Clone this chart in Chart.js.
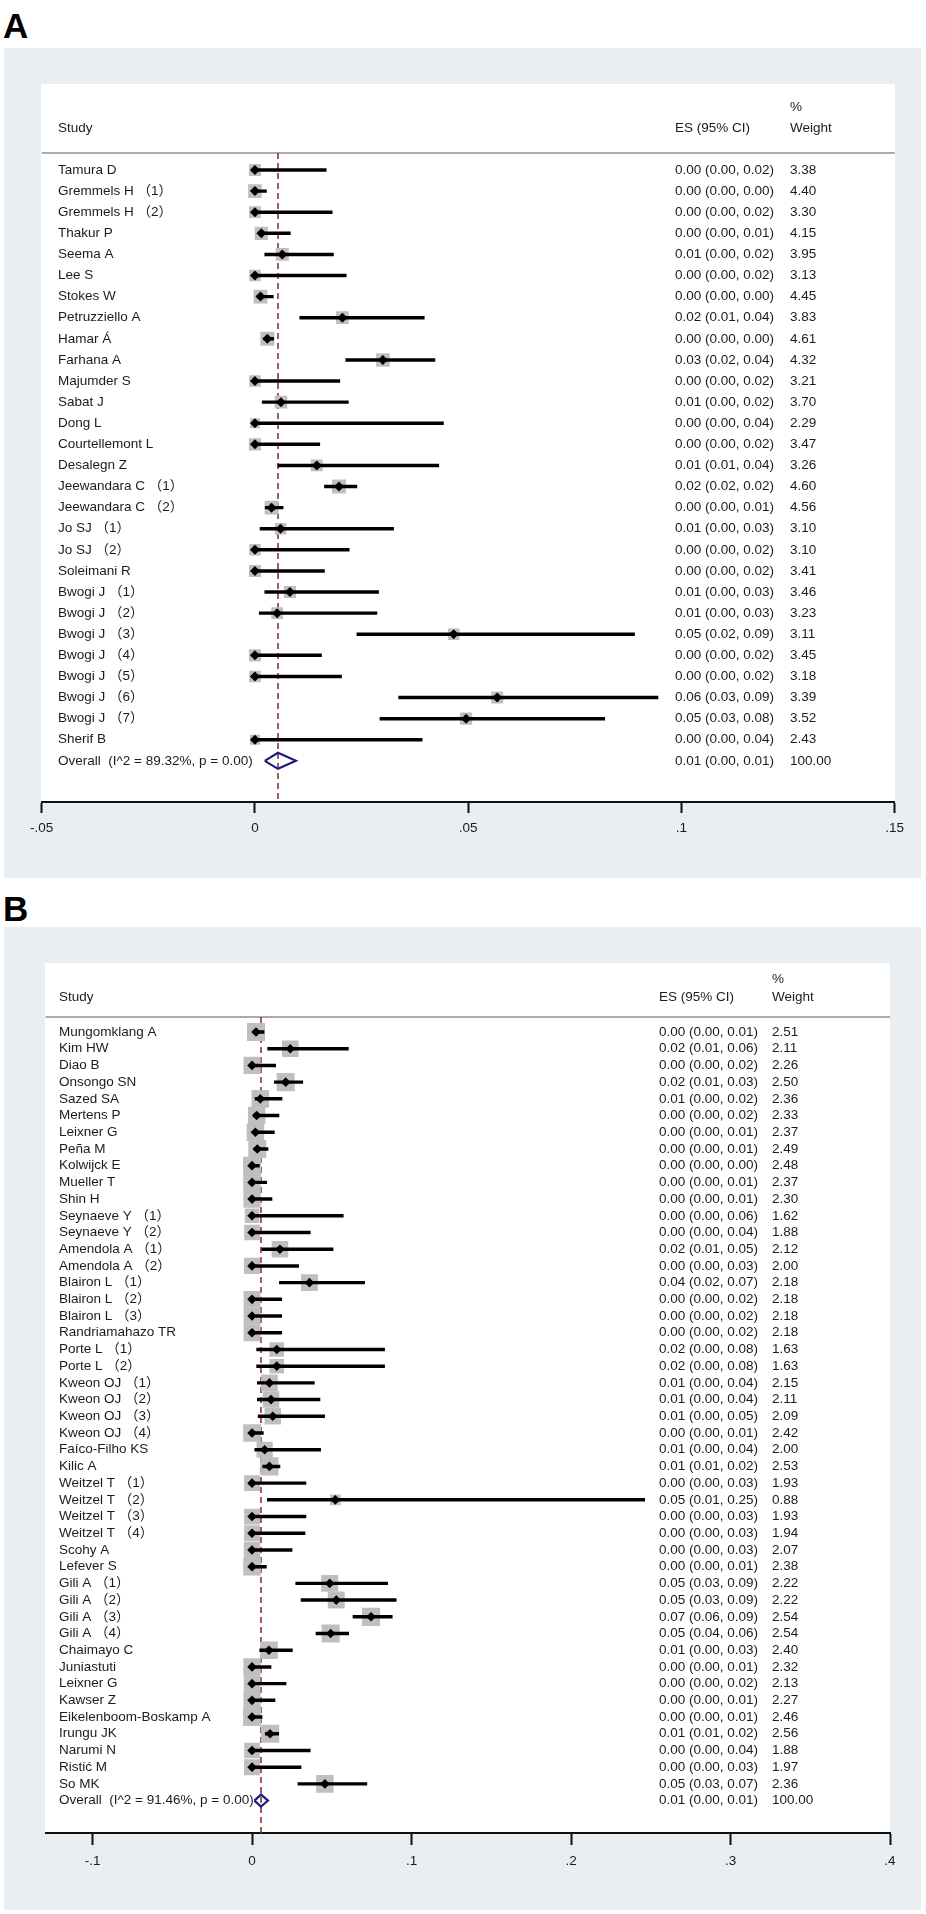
<!DOCTYPE html>
<html><head><meta charset="utf-8">
<script src="https://cdn.jsdelivr.net/npm/chart.js@4"></script>
<style>
html,body{margin:0;padding:0;background:#fff;}
body{width:926px;height:1914px;position:relative;overflow:hidden;font-family:"Liberation Sans",Arial,sans-serif;}
.lbl{position:absolute;font-weight:bold;font-size:35px;color:#000;line-height:1;}
.gray{position:absolute;background:#e8eef2;}
.white{position:absolute;background:#fff;}
canvas{position:absolute;left:0;}
</style></head><body>
<div class="lbl" style="left:3px;top:8px">A</div>
<div class="gray" style="left:4px;top:48px;width:917px;height:830px"></div>
<div class="white" style="left:41px;top:84px;width:854px;height:718px"></div>
<canvas id="cA" width="926" height="845" style="top:40px"></canvas>
<div class="lbl" style="left:3px;top:891px">B</div>
<div class="gray" style="left:4px;top:927px;width:917px;height:983px"></div>
<div class="white" style="left:45px;top:963px;width:845px;height:870px"></div>
<canvas id="cB" width="926" height="994" style="top:920px"></canvas>
<script>
// ---------- Panel A data ----------
const studiesA = ['Tamura D','Gremmels H （1）','Gremmels H （2）','Thakur P','Seema A','Lee S','Stokes W','Petruzziello A','Hamar Á','Farhana A','Majumder S','Sabat J','Dong L','Courtellemont L','Desalegn Z','Jeewandara C （1）','Jeewandara C （2）','Jo SJ （1）','Jo SJ （2）','Soleimani R','Bwogi J （1）','Bwogi J （2）','Bwogi J （3）','Bwogi J （4）','Bwogi J （5）','Bwogi J （6）','Bwogi J （7）','Sherif B'];
const esA = [0, 0, 0, 0.0015, 0.0064, 0, 0.0013, 0.0205, 0.0029, 0.0300, 0, 0.0061, 0, 0, 0.0145, 0.0197, 0.0039, 0.0060, 0, 0, 0.0082, 0.0052, 0.0466, 0, 0, 0.0568, 0.0495, 0];
const loA = [0, 0, 0, 0.0008, 0.0023, 0, 0.0005, 0.0105, 0.0021, 0.0213, 0, 0.0017, 0, 0, 0.0054, 0.0163, 0.0024, 0.0012, 0, 0, 0.0023, 0.0010, 0.0239, 0, 0, 0.0337, 0.0293, 0];
const hiA = [0.0167, 0.0027, 0.0181, 0.0083, 0.0184, 0.0214, 0.0043, 0.0397, 0.0044, 0.0422, 0.0199, 0.0219, 0.0442, 0.0152, 0.0431, 0.0239, 0.0066, 0.0325, 0.0221, 0.0163, 0.0290, 0.0286, 0.0890, 0.0156, 0.0203, 0.0945, 0.0820, 0.0392];
const weightsA = [3.38,4.40,3.30,4.15,3.95,3.13,4.45,3.83,4.61,4.32,3.21,3.70,2.29,3.47,3.26,4.60,4.56,3.10,3.10,3.41,3.46,3.23,3.11,3.45,3.18,3.39,3.52,2.43];
const esTextA = ['0.00 (0.00, 0.02)','0.00 (0.00, 0.00)','0.00 (0.00, 0.02)','0.00 (0.00, 0.01)','0.01 (0.00, 0.02)','0.00 (0.00, 0.02)','0.00 (0.00, 0.00)','0.02 (0.01, 0.04)','0.00 (0.00, 0.00)','0.03 (0.02, 0.04)','0.00 (0.00, 0.02)','0.01 (0.00, 0.02)','0.00 (0.00, 0.04)','0.00 (0.00, 0.02)','0.01 (0.01, 0.04)','0.02 (0.02, 0.02)','0.00 (0.00, 0.01)','0.01 (0.00, 0.03)','0.00 (0.00, 0.02)','0.00 (0.00, 0.02)','0.01 (0.00, 0.03)','0.01 (0.00, 0.03)','0.05 (0.02, 0.09)','0.00 (0.00, 0.02)','0.00 (0.00, 0.02)','0.06 (0.03, 0.09)','0.05 (0.03, 0.08)','0.00 (0.00, 0.04)'];
const weightTextA = ['3.38','4.40','3.30','4.15','3.95','3.13','4.45','3.83','4.61','4.32','3.21','3.70','2.29','3.47','3.26','4.60','4.56','3.10','3.10','3.41','3.46','3.23','3.11','3.45','3.18','3.39','3.52','2.43'];
const overallLabelA = 'Overall  (I^2 = 89.32%, p = 0.00)';
const overallA = [0.0054, 0.0023, 0.0096]; // es, lo, hi
const overallTextA = ['0.01 (0.00, 0.01)', '100.00'];
const xTicksA = [-0.05, 0, 0.05, 0.1, 0.15];
const xTickLabelsA = ['-.05', '0', '.05', '.1', '.15'];

// ---------- Panel B data ----------
const studiesB = ['Mungomklang A','Kim HW','Diao B','Onsongo SN','Sazed SA','Mertens P','Leixner G','Peña M','Kolwijck E','Mueller T','Shin H','Seynaeve Y （1）','Seynaeve Y （2）','Amendola A （1）','Amendola A （2）','Blairon L （1）','Blairon L （2）','Blairon L （3）','Randriamahazo TR','Porte L （1）','Porte L （2）','Kweon OJ （1）','Kweon OJ （2）','Kweon OJ （3）','Kweon OJ （4）','Faíco-Filho KS','Kilic A','Weitzel T （1）','Weitzel T （2）','Weitzel T （3）','Weitzel T （4）','Scohy A','Lefever S','Gili A （1）','Gili A （2）','Gili A （3）','Gili A （4）','Chaimayo C','Juniastuti','Leixner G','Kawser Z','Eikelenboom-Boskamp A','Irungu JK','Narumi N','Ristić M','So MK'];
const esB = [0.0025, 0.0240, 0, 0.0211, 0.0052, 0.0029, 0.0021, 0.0033, 0, 0, 0, 0, 0, 0.0175, 0, 0.0360, 0, 0, 0, 0.0155, 0.0155, 0.0109, 0.0119, 0.0130, 0, 0.0079, 0.0109, 0, 0.0522, 0, 0, 0, 0, 0.0487, 0.0528, 0.0746, 0.0493, 0.0106, 0, 0, 0, 0, 0.0113, 0, 0, 0.0457];
const loB = [0.0008, 0.0098, 0, 0.0140, 0.0019, 0.0008, 0.0008, 0.0013, 0, 0, 0, 0, 0, 0.0061, 0, 0.0171, 0, 0, 0, 0.0029, 0.0029, 0.0033, 0.0033, 0.0038, 0, 0.0017, 0.0067, 0, 0.0096, 0, 0, 0, 0, 0.0274, 0.0307, 0.0633, 0.0401, 0.0048, 0, 0, 0, 0, 0.0083, 0, 0, 0.0288];
const hiB = [0.0075, 0.0604, 0.0148, 0.0318, 0.0188, 0.0169, 0.0140, 0.0100, 0.0046, 0.0092, 0.0125, 0.0572, 0.0365, 0.0508, 0.0292, 0.0706, 0.0186, 0.0186, 0.0186, 0.0831, 0.0831, 0.0391, 0.0426, 0.0455, 0.0071, 0.0430, 0.0175, 0.0338, 0.2462, 0.0338, 0.0332, 0.0251, 0.0090, 0.0850, 0.0904, 0.0879, 0.0606, 0.0253, 0.0119, 0.0213, 0.0144, 0.0063, 0.0167, 0.0365, 0.0307, 0.0720];
const weightsB = [2.51,2.11,2.26,2.50,2.36,2.33,2.37,2.49,2.48,2.37,2.30,1.62,1.88,2.12,2.00,2.18,2.18,2.18,2.18,1.63,1.63,2.15,2.11,2.09,2.42,2.00,2.53,1.93,0.88,1.93,1.94,2.07,2.38,2.22,2.22,2.54,2.54,2.40,2.32,2.13,2.27,2.46,2.56,1.88,1.97,2.36];
const esTextB = ['0.00 (0.00, 0.01)','0.02 (0.01, 0.06)','0.00 (0.00, 0.02)','0.02 (0.01, 0.03)','0.01 (0.00, 0.02)','0.00 (0.00, 0.02)','0.00 (0.00, 0.01)','0.00 (0.00, 0.01)','0.00 (0.00, 0.00)','0.00 (0.00, 0.01)','0.00 (0.00, 0.01)','0.00 (0.00, 0.06)','0.00 (0.00, 0.04)','0.02 (0.01, 0.05)','0.00 (0.00, 0.03)','0.04 (0.02, 0.07)','0.00 (0.00, 0.02)','0.00 (0.00, 0.02)','0.00 (0.00, 0.02)','0.02 (0.00, 0.08)','0.02 (0.00, 0.08)','0.01 (0.00, 0.04)','0.01 (0.00, 0.04)','0.01 (0.00, 0.05)','0.00 (0.00, 0.01)','0.01 (0.00, 0.04)','0.01 (0.01, 0.02)','0.00 (0.00, 0.03)','0.05 (0.01, 0.25)','0.00 (0.00, 0.03)','0.00 (0.00, 0.03)','0.00 (0.00, 0.03)','0.00 (0.00, 0.01)','0.05 (0.03, 0.09)','0.05 (0.03, 0.09)','0.07 (0.06, 0.09)','0.05 (0.04, 0.06)','0.01 (0.00, 0.03)','0.00 (0.00, 0.01)','0.00 (0.00, 0.02)','0.00 (0.00, 0.01)','0.00 (0.00, 0.01)','0.01 (0.01, 0.02)','0.00 (0.00, 0.04)','0.00 (0.00, 0.03)','0.05 (0.03, 0.07)'];
const weightTextB = ['2.51','2.11','2.26','2.50','2.36','2.33','2.37','2.49','2.48','2.37','2.30','1.62','1.88','2.12','2.00','2.18','2.18','2.18','2.18','1.63','1.63','2.15','2.11','2.09','2.42','2.00','2.53','1.93','0.88','1.93','1.94','2.07','2.38','2.22','2.22','2.54','2.54','2.40','2.32','2.13','2.27','2.46','2.56','1.88','1.97','2.36'];
const overallLabelB = 'Overall  (I^2 = 91.46%, p = 0.00)';
const overallB = [0.0056, 0.0015, 0.0100];
const overallTextB = ['0.01 (0.00, 0.01)', '100.00'];
const xTicksB = [-0.1, 0, 0.1, 0.2, 0.3, 0.4];
const xTickLabelsB = ['-.1', '0', '.1', '.2', '.3', '.4'];

// ---------- drawing ----------
const FONT_FAMILY = '"Liberation Sans", Arial, "Noto Sans CJK SC", sans-serif';
const TEXT_COLOR = '#1b1b1b';

function forest(id, d, s) {
  const n = d.studies.length;
  const textPlugin = {
    id: 'forestText' + id,
    beforeDatasetsDraw(chart) {
      const ctx = chart.ctx, a = chart.chartArea;
      ctx.save();
      ctx.strokeStyle = '#ababab'; ctx.lineWidth = 2;
      ctx.beginPath(); ctx.moveTo(a.left, a.top); ctx.lineTo(a.right, a.top); ctx.stroke();
      ctx.restore();
    },
    afterDraw(chart) {
      const ctx = chart.ctx, a = chart.chartArea, ys = chart.scales.y;
      ctx.save();
      ctx.font = s.fontSize + 'px ' + FONT_FAMILY;
      ctx.fillStyle = TEXT_COLOR; ctx.textBaseline = 'middle'; ctx.textAlign = 'left';
      ctx.fillText('Study', s.nameX, a.top + s.headY);
      ctx.fillText('ES (95% CI)', s.esX, a.top + s.headY);
      ctx.fillText('%', s.wX, a.top + s.pctY);
      ctx.fillText('Weight', s.wX, a.top + s.headY);
      for (let i = 0; i < n; i++) {
        const py = ys.getPixelForValue(i);
        ctx.fillText(d.studies[i], s.nameX, py);
        ctx.fillText(d.esText[i], s.esX, py);
        ctx.fillText(d.wText[i], s.wX, py);
      }
      const oy = ys.getPixelForValue(n);
      ctx.fillText(d.overallLabel, s.nameX, oy);
      ctx.fillText(d.overallText[0], s.esX, oy);
      ctx.fillText(d.overallText[1], s.wX, oy);
      ctx.restore();
    }
  };
  const pts = d.es.map((v, i) => ({x: v, y: i}));
  const ci = d.lo.map((v, i) => ({x: [v, d.hi[i]], y: i}));
  const o = d.overall;
  const diamond = [{x: o[1], y: n}, {x: o[0], y: n - s.dh}, {x: o[2], y: n}, {x: o[0], y: n + s.dh}, {x: o[1], y: n}];
  new Chart(document.getElementById(id), {
    type: 'scatter',
    data: {
      datasets: [
        {type: 'line', data: diamond, borderColor: '#1d1d7e', borderWidth: 2.2, pointRadius: 0, fill: false, tension: 0, order: 1},
        {type: 'scatter', data: pts, pointStyle: 'rectRot', pointRadius: s.mark, backgroundColor: '#000', borderWidth: 0, order: 2},
        {type: 'bar', indexAxis: 'y', data: ci, backgroundColor: '#000', borderWidth: 0, barThickness: s.ciW, grouped: false, order: 3},
        {type: 'scatter', data: pts, pointStyle: 'rect', backgroundColor: '#bfbfbf', borderWidth: 0, order: 4,
          pointRadius: c => s.boxK * Math.sqrt(d.weights[c.dataIndex]) / Math.SQRT2},
        {type: 'line', data: [{x: o[0], y: s.yMin}, {x: o[0], y: s.yMax}], borderColor: '#8a3344', borderWidth: 1.6, borderDash: [6, 4], pointRadius: 0, fill: false, order: 10}
      ]
    },
    options: {
      responsive: false, animation: false, events: [],
      layout: {padding: {left: s.padL, right: s.padR, top: s.padT, bottom: 0}},
      plugins: {legend: {display: false}, tooltip: {enabled: false}},
      scales: {
        x: {
          type: 'linear', position: 'bottom', min: s.xMin, max: s.xMax, offset: false, beginAtZero: false,
          afterBuildTicks: sc => { sc.ticks = d.ticks.map(v => ({value: v})); },
          afterFit: sc => { sc.height = s.axisH; },
          ticks: {callback: (v, i) => d.tickLabels[i], font: {family: FONT_FAMILY, size: s.fontSize}, color: TEXT_COLOR, padding: s.tickPad, maxRotation: 0, autoSkip: false},
          grid: {offset: false, drawOnChartArea: false, drawTicks: true, tickLength: s.tickLen, tickWidth: 2, tickColor: '#111'},
          border: {display: true, color: '#111', width: 2}
        },
        y: {type: 'linear', reverse: true, min: s.yMin, max: s.yMax, display: false, offset: false, grid: {offset: false}}
      }
    },
    plugins: [textPlugin]
  });
}

forest('cA',
  {studies: studiesA, es: esA, lo: loA, hi: hiA, weights: weightsA, esText: esTextA, wText: weightTextA,
   overallLabel: overallLabelA, overall: overallA, overallText: overallTextA, ticks: xTicksA, tickLabels: xTickLabelsA},
  {padL: 41.7, padR: 31.3, padT: 113, axisH: 83, xMin: -0.05, xMax: 0.15, yMin: -0.806, yMax: 29.95,
   nameX: 58, esX: 675, wX: 790, headY: -25, pctY: -46, fontSize: 13.5, boxK: 6.5, mark: 5, ciW: 2.8, dh: 0.38,
   tickLen: 11, tickPad: 7});

forest('cB',
  {studies: studiesB, es: esB, lo: loB, hi: hiB, weights: weightsB, esText: esTextB, wText: weightTextB,
   overallLabel: overallLabelB, overall: overallB, overallText: overallTextB, ticks: xTicksB, tickLabels: xTickLabelsB},
  {padL: 45.5, padR: 36, padT: 97, axisH: 81, xMin: -0.1295, xMax: 0.4, yMin: -0.898, yMax: 47.94,
   nameX: 59, esX: 659, wX: 772, headY: -20, pctY: -38, fontSize: 13.5, boxK: 11.4, mark: 4.8, ciW: 2.8, dh: 0.36,
   tickLen: 12, tickPad: 8});
</script>
</body></html>
